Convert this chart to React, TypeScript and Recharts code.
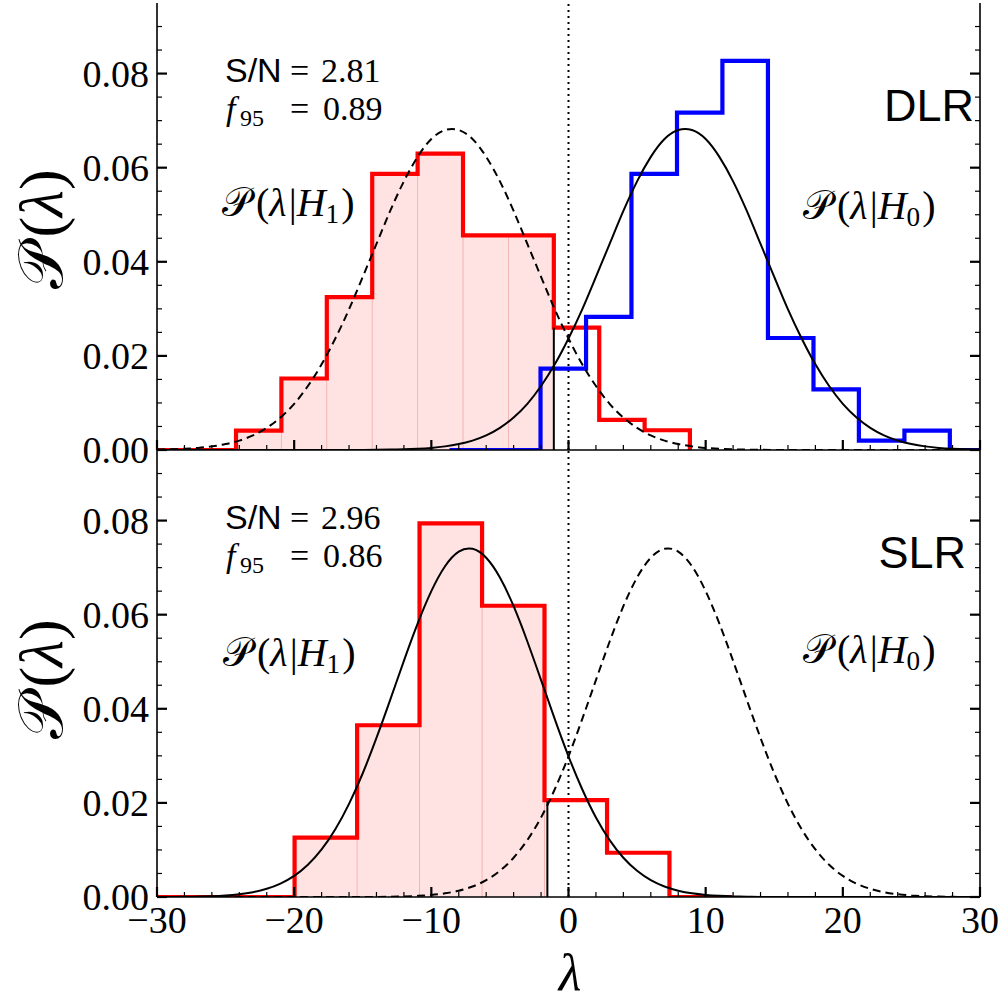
import { ComposedChart, Line, Area, XAxis, YAxis, ReferenceLine } from 'recharts'

// lambda grid for the model curves
const lam = [
  -30, -29, -28, -27, -26, -25, -24, -23, -22, -21, -20, -19, -18, -17, -16, -15, -14, -13, -12, -11,
  -10, -9, -8, -7, -6, -5, -4, -3, -2, -1, 0, 1, 2, 3, 4, 5, 6, 7, 8, 9, 10, 11, 12, 13, 14, 15, 16, 17,
  18, 19, 20, 21, 22, 23, 24, 25, 26, 27, 28, 29, 30,
]

// DLR panel: model curves
const dlrCurveH1 = [
  0.00008, 0.00014, 0.00026, 0.00045, 0.00077, 0.00126, 0.002, 0.0031, 0.0047, 0.0069, 0.0098, 0.0136,
  0.0182, 0.0237, 0.0299, 0.0368, 0.0438, 0.0508, 0.0571, 0.0623, 0.0661, 0.068, 0.068, 0.0661, 0.0623,
  0.0571, 0.0508, 0.0438, 0.0368, 0.0299, 0.0237, 0.0182, 0.0136, 0.0098, 0.0069, 0.0047, 0.0031, 0.002,
  0.00126, 0.00077, 0.00045, 0.00026, 0.00014, 0.00008, 0.00004, 0.00002, 0, 0, 0, 0, 0, 0, 0, 0, 0, 0, 0,
  0, 0, 0, 0,
]
const dlrCurveH0 = [
  0, 0, 0, 0, 0, 0, 0, 0, 0, 0, 0, 0, 0, 0, 0, 0.00002, 0.00004, 0.00008, 0.00014, 0.00026, 0.00045,
  0.00077, 0.00126, 0.002, 0.0031, 0.0047, 0.0069, 0.0098, 0.0136, 0.0182, 0.0237, 0.0299, 0.0368, 0.0438,
  0.0508, 0.0571, 0.0623, 0.0661, 0.068, 0.068, 0.0661, 0.0623, 0.0571, 0.0508, 0.0438, 0.0368, 0.0299,
  0.0237, 0.0182, 0.0136, 0.0098, 0.0069, 0.0047, 0.0031, 0.002, 0.00126, 0.00077, 0.00045, 0.00026,
  0.00014, 0.00008,
]

// DLR panel: histograms (bin edges and densities)
const dlrH1Edges = [-24.24, -20.93, -17.62, -14.31, -11.0, -7.69, -4.38, -1.07, 2.24, 5.55, 8.85]
const dlrH1Dens = [0.0041, 0.0152, 0.0325, 0.0587, 0.063, 0.0456, 0.0456, 0.026, 0.0064, 0.0042]
const dlrH0Edges = [-8.67, -5.36, -2.04, 1.28, 4.59, 7.91, 11.22, 14.54, 17.86, 21.17, 24.49, 27.8]
const dlrH0Dens = [0, 0, 0.0173, 0.0283, 0.0587, 0.0717, 0.0827, 0.0238, 0.0129, 0.002, 0.0041]
const dlrCut = { x: -1.07, y: 0.026 }

// SLR panel: model curves
const slrCurveH1 = [
  0, 0.00001, 0.00004, 0.00009, 0.00017, 0.00032, 0.00059, 0.00103, 0.00174, 0.00284, 0.00448, 0.00685,
  0.0101, 0.0144, 0.0198, 0.0263, 0.0338, 0.0419, 0.0502, 0.0581, 0.065, 0.0703, 0.0734, 0.074, 0.0721,
  0.0679, 0.0618, 0.0543, 0.0461, 0.0378, 0.0299, 0.0229, 0.0169, 0.0121, 0.00835, 0.00557, 0.00359,
  0.00223, 0.00134, 0.00078, 0.00044, 0.00024, 0.00012, 0.00006, 0, 0, 0, 0, 0, 0, 0, 0, 0, 0, 0, 0, 0,
  0, 0, 0, 0,
]
const slrCurveH0 = [
  0, 0, 0, 0, 0, 0, 0, 0, 0, 0, 0, 0, 0, 0, 0, 0, 0, 0.00006, 0.00012, 0.00024, 0.00044, 0.00078,
  0.00134, 0.00223, 0.00359, 0.00557, 0.00835, 0.0121, 0.0169, 0.0229, 0.0299, 0.0378, 0.0461, 0.0543,
  0.0618, 0.0679, 0.0721, 0.074, 0.0734, 0.0703, 0.065, 0.0581, 0.0502, 0.0419, 0.0338, 0.0263, 0.0198,
  0.0144, 0.0101, 0.00685, 0.00448, 0.00284, 0.00174, 0.00103, 0.00059, 0.00032, 0.00017, 0.00009,
  0.00004, 0.00001, 0,
]

// SLR panel: histogram
const slrH1Edges = [-19.97, -15.41, -10.86, -6.3, -1.75, 2.81, 7.36, 11.91]
const slrH1Dens = [0.0126, 0.0365, 0.0794, 0.0619, 0.0206, 0.0094, 0]
const slrCut = { x: -1.54, y: 0.0203 }

// ticks
const xTicks = [
  -30, -28, -26, -24, -22, -20, -18, -16, -14, -12, -10, -8, -6, -4, -2, 0, 2, 4, 6, 8, 10, 12, 14, 16,
  18, 20, 22, 24, 26, 28, 30,
]
const xMajor = [-30, -20, -10, 0, 10, 20, 30]
const yTicks = [
  0, 0.005, 0.01, 0.015, 0.02, 0.025, 0.03, 0.035, 0.04, 0.045, 0.05, 0.055, 0.06, 0.065, 0.07, 0.075,
  0.08, 0.085, 0.09,
]
const yMajor = [0, 0.02, 0.04, 0.06, 0.08]

const SERIF = 'Liberation Serif, Times New Roman, serif'
const SANS = 'Liberation Sans, DejaVu Sans, sans-serif'
const RED = '#ff0000'
const BLUE = '#0000ff'

const W = 1005
const X_DOMAIN: [number, number] = [-30, 30]
const Y_DOMAIN: [number, number] = [0, 0.095]

function steps(edges: number[], dens: number[], start?: number, end?: number) {
  const pts: { x: number; y: number }[] = []
  if (start !== undefined) pts.push({ x: start, y: 0 })
  dens.forEach((d, i) => pts.push({ x: edges[i], y: d }))
  pts.push({ x: edges[edges.length - 1], y: 0 })
  if (end !== undefined) pts.push({ x: end, y: 0 })
  return pts
}

function fillSteps(edges: number[], dens: number[], cut: number) {
  const pts: { x: number; y: number }[] = []
  dens.forEach((d, i) => {
    if (edges[i] < cut) pts.push({ x: edges[i], y: d })
  })
  pts.push({ x: cut, y: 0 })
  return pts
}

// faint bar edges inside the shaded region
function innerEdges(edges: number[], dens: number[], cut: number) {
  const out: { x: number; y: number }[] = []
  for (let i = 1; i < edges.length; i++) {
    if (edges[i] < cut) out.push({ x: edges[i], y: Math.min(dens[i - 1], dens[i]) })
  }
  return out
}

const curve = (ys: number[]) => lam.map((x, i) => ({ x, y: ys[i] }))

const isMajor = (v: number, majors: number[]) => majors.some((m) => Math.abs(m - v) < 1e-9)

const fmtX = (v: number) => (v < 0 ? '\u2212' + Math.abs(v) : String(v))
const fmtY = (v: number) => v.toFixed(2)

function makeTick(side: 'top' | 'bottom' | 'left' | 'right', majors: number[], label?: (v: number) => string) {
  return (props: any) => {
    const { x, y, payload } = props
    const v = payload.value as number
    const major = isMajor(v, majors)
    const len = major ? 10 : 5
    const sw = major ? 2.2 : 1.2
    let l = { x1: x, y1: y, x2: x, y2: y }
    if (side === 'bottom') l = { x1: x, y1: y, x2: x, y2: y - len }
    if (side === 'top') l = { x1: x, y1: y, x2: x, y2: y + len }
    if (side === 'left') l = { x1: x, y1: y, x2: x + len, y2: y }
    if (side === 'right') l = { x1: x, y1: y, x2: x - len, y2: y }
    return (
      <g>
        <line {...l} stroke="#000" strokeWidth={sw} />
        {label && major && side === 'bottom' && (
          <text x={x} y={y + 36} textAnchor="middle" style={{ fontFamily: SERIF }} fontSize={38} fill="#000">
            {label(v)}
          </text>
        )}
        {label && major && side === 'left' && (
          <text x={x - 8} y={y + 13} textAnchor="end" style={{ fontFamily: SERIF }} fontSize={38} fill="#000">
            {label(v)}
          </text>
        )}
      </g>
    )
  }
}

const axisLine = { stroke: '#000', strokeWidth: 1.6 }

function Panel({
  height,
  margin,
  bottomHeight,
  showX,
  fill,
  edges,
  hists,
  curves,
  cut,
}: {
  height: number
  margin: { top: number; right: number; bottom: number; left: number }
  bottomHeight: number
  showX: boolean
  fill: { x: number; y: number }[]
  edges: { x: number; y: number }[]
  hists: { data: { x: number; y: number }[]; color: string }[]
  curves: { data: { x: number; y: number }[]; dashed: boolean }[]
  cut: { x: number; y: number }
}) {
  return (
    <ComposedChart width={W} height={height} data={fill} margin={margin}>
      <XAxis
        dataKey="x"
        type="number"
        domain={X_DOMAIN}
        allowDataOverflow
        ticks={xTicks}
        interval={0}
        height={bottomHeight}
        tickSize={0}
        tickMargin={0}
        tickLine={false}
        axisLine={axisLine}
        tick={makeTick('bottom', xMajor, showX ? fmtX : undefined)}
      />
      <XAxis
        xAxisId="top"
        orientation="top"
        dataKey="x"
        type="number"
        domain={X_DOMAIN}
        allowDataOverflow
        ticks={xTicks}
        interval={0}
        height={0}
        tickSize={0}
        tickMargin={0}
        tickLine={false}
        axisLine={axisLine}
        tick={makeTick('top', xMajor)}
      />
      <YAxis
        type="number"
        domain={Y_DOMAIN}
        allowDataOverflow
        ticks={yTicks}
        interval={0}
        width={157}
        tickSize={0}
        tickMargin={0}
        tickLine={false}
        axisLine={axisLine}
        tick={makeTick('left', yMajor, fmtY)}
      />
      <YAxis
        yAxisId="right"
        orientation="right"
        type="number"
        domain={Y_DOMAIN}
        allowDataOverflow
        ticks={yTicks}
        interval={0}
        width={25}
        tickSize={0}
        tickMargin={0}
        tickLine={false}
        axisLine={axisLine}
        tick={makeTick('right', yMajor)}
      />
      <Area
        dataKey="y"
        type="stepAfter"
        stroke="none"
        fill={RED}
        fillOpacity={0.11}
        baseValue={0}
        isAnimationActive={false}
        dot={false}
        activeDot={false}
      />
      {edges.map((e, i) => (
        <ReferenceLine
          key={'e' + i}
          segment={[
            { x: e.x, y: 0 },
            { x: e.x, y: e.y },
          ]}
          stroke="#f4b4b4"
          strokeWidth={1}
        />
      ))}
      <ReferenceLine x={0} stroke="#000" strokeWidth={2} strokeDasharray="2 4" />
      {hists.map((h, i) => (
        <Line
          key={'h' + i}
          data={h.data}
          dataKey="y"
          type="stepAfter"
          stroke={h.color}
          strokeWidth={4.2}
          dot={false}
          activeDot={false}
          isAnimationActive={false}
        />
      ))}
      {curves.map((c, i) => (
        <Line
          key={'c' + i}
          data={c.data}
          dataKey="y"
          type="natural"
          stroke="#000"
          strokeWidth={2}
          strokeDasharray={c.dashed ? '8 5' : undefined}
          dot={false}
          activeDot={false}
          isAnimationActive={false}
        />
      ))}
      <ReferenceLine
        segment={[
          { x: cut.x, y: 0 },
          { x: cut.x, y: cut.y },
        ]}
        stroke="#000"
        strokeWidth={2}
      />
    </ComposedChart>
  )
}

function PLabel({ x, y, sub, size = 40 }: { x: number; y: number; sub: string; size?: number }) {
  return (
    <text x={x} y={y} style={{ fontFamily: SERIF }} fontSize={size} fill="#000">
      <tspan>𝒫</tspan>
      <tspan dx={5}>(</tspan>
      <tspan fontStyle="italic">λ</tspan>
      <tspan dx={2}>|</tspan>
      <tspan fontStyle="italic">H</tspan>
      <tspan fontSize={size * 0.68} dy={7}>
        {sub}
      </tspan>
      <tspan dx={2} dy={-7}>)</tspan>
    </text>
  )
}

function Stats({ y, sn, f95 }: { y: number; sn: string; f95: string }) {
  return (
    <g fill="#000">
      <text x={225} y={y} fontSize={34}>
        <tspan style={{ fontFamily: SANS }}>S/N</tspan>
        <tspan x={290} style={{ fontFamily: SERIF }}>=</tspan>
        <tspan x={321} style={{ fontFamily: SERIF }}>{sn}</tspan>
      </text>
      <text x={226} y={y + 38} fontSize={34} style={{ fontFamily: SERIF }}>
        <tspan fontStyle="italic">f</tspan>
        <tspan x={240} dy={6} fontSize={24}>95</tspan>
        <tspan x={290} dy={-6}>=</tspan>
        <tspan x={323}>{f95}</tspan>
      </text>
    </g>
  )
}

function YLabel({ cy }: { cy: number }) {
  return (
    <text
      x={62}
      y={cy}
      transform={`rotate(-90 62 ${cy})`}
      textAnchor="middle"
      style={{ fontFamily: SERIF }}
      fontSize={62}
      fill="#000"
    >
      <tspan>𝒫</tspan>
      <tspan dx={6}>(</tspan>
      <tspan fontStyle="italic">λ</tspan>)
    </text>
  )
}

export default function App() {
  const topFill = fillSteps(dlrH1Edges, dlrH1Dens, dlrCut.x)
  const botFill = fillSteps(slrH1Edges, slrH1Dens, slrCut.x)
  return (
    <div style={{ position: 'absolute', left: 0, top: 0, width: W, height: 1003, background: '#fff' }}>
      <div style={{ position: 'absolute', left: 0, top: 0 }}>
        <Panel
          height={500}
          margin={{ top: 3, right: 0, bottom: 0, left: 0 }}
          bottomHeight={50}
          showX={false}
          fill={topFill}
          edges={innerEdges(dlrH1Edges, dlrH1Dens, dlrCut.x)}
          hists={[
            { data: steps(dlrH1Edges, dlrH1Dens, -30), color: RED },
            { data: steps(dlrH0Edges, dlrH0Dens, undefined, 30), color: BLUE },
          ]}
          curves={[
            { data: curve(dlrCurveH1), dashed: true },
            { data: curve(dlrCurveH0), dashed: false },
          ]}
          cut={dlrCut}
        />
      </div>
      <div style={{ position: 'absolute', left: 0, top: 440 }}>
        <Panel
          height={563}
          margin={{ top: 10, right: 0, bottom: 0, left: 0 }}
          bottomHeight={106}
          showX={true}
          fill={botFill}
          edges={innerEdges(slrH1Edges, slrH1Dens, slrCut.x)}
          hists={[{ data: steps(slrH1Edges, slrH1Dens, -30), color: RED }]}
          curves={[
            { data: curve(slrCurveH1), dashed: false },
            { data: curve(slrCurveH0), dashed: true },
          ]}
          cut={slrCut}
        />
      </div>
      <svg
        width={W}
        height={1003}
        style={{ position: 'absolute', left: 0, top: 0, pointerEvents: 'none' }}
      >
        <Stats y={82} sn="2.81" f95="0.89" />
        <Stats y={529} sn="2.96" f95="0.86" />
        <PLabel x={222} y={216} sub="1" />
        <PLabel x={803} y={219} sub="0" />
        <PLabel x={223} y={666} sub="1" />
        <PLabel x={803} y={663} sub="0" />
        <text x={974} y={121} textAnchor="end" style={{ fontFamily: SANS }} fontSize={45} fill="#000">
          DLR
        </text>
        <text x={966} y={568} textAnchor="end" style={{ fontFamily: SANS }} fontSize={45} fill="#000">
          SLR
        </text>
        <YLabel cy={229} />
        <YLabel cy={679} />
        <text x={570} y={990} textAnchor="middle" style={{ fontFamily: SERIF }} fontStyle="italic" fontSize={52} fill="#000">
          λ
        </text>
      </svg>
    </div>
  )
}
